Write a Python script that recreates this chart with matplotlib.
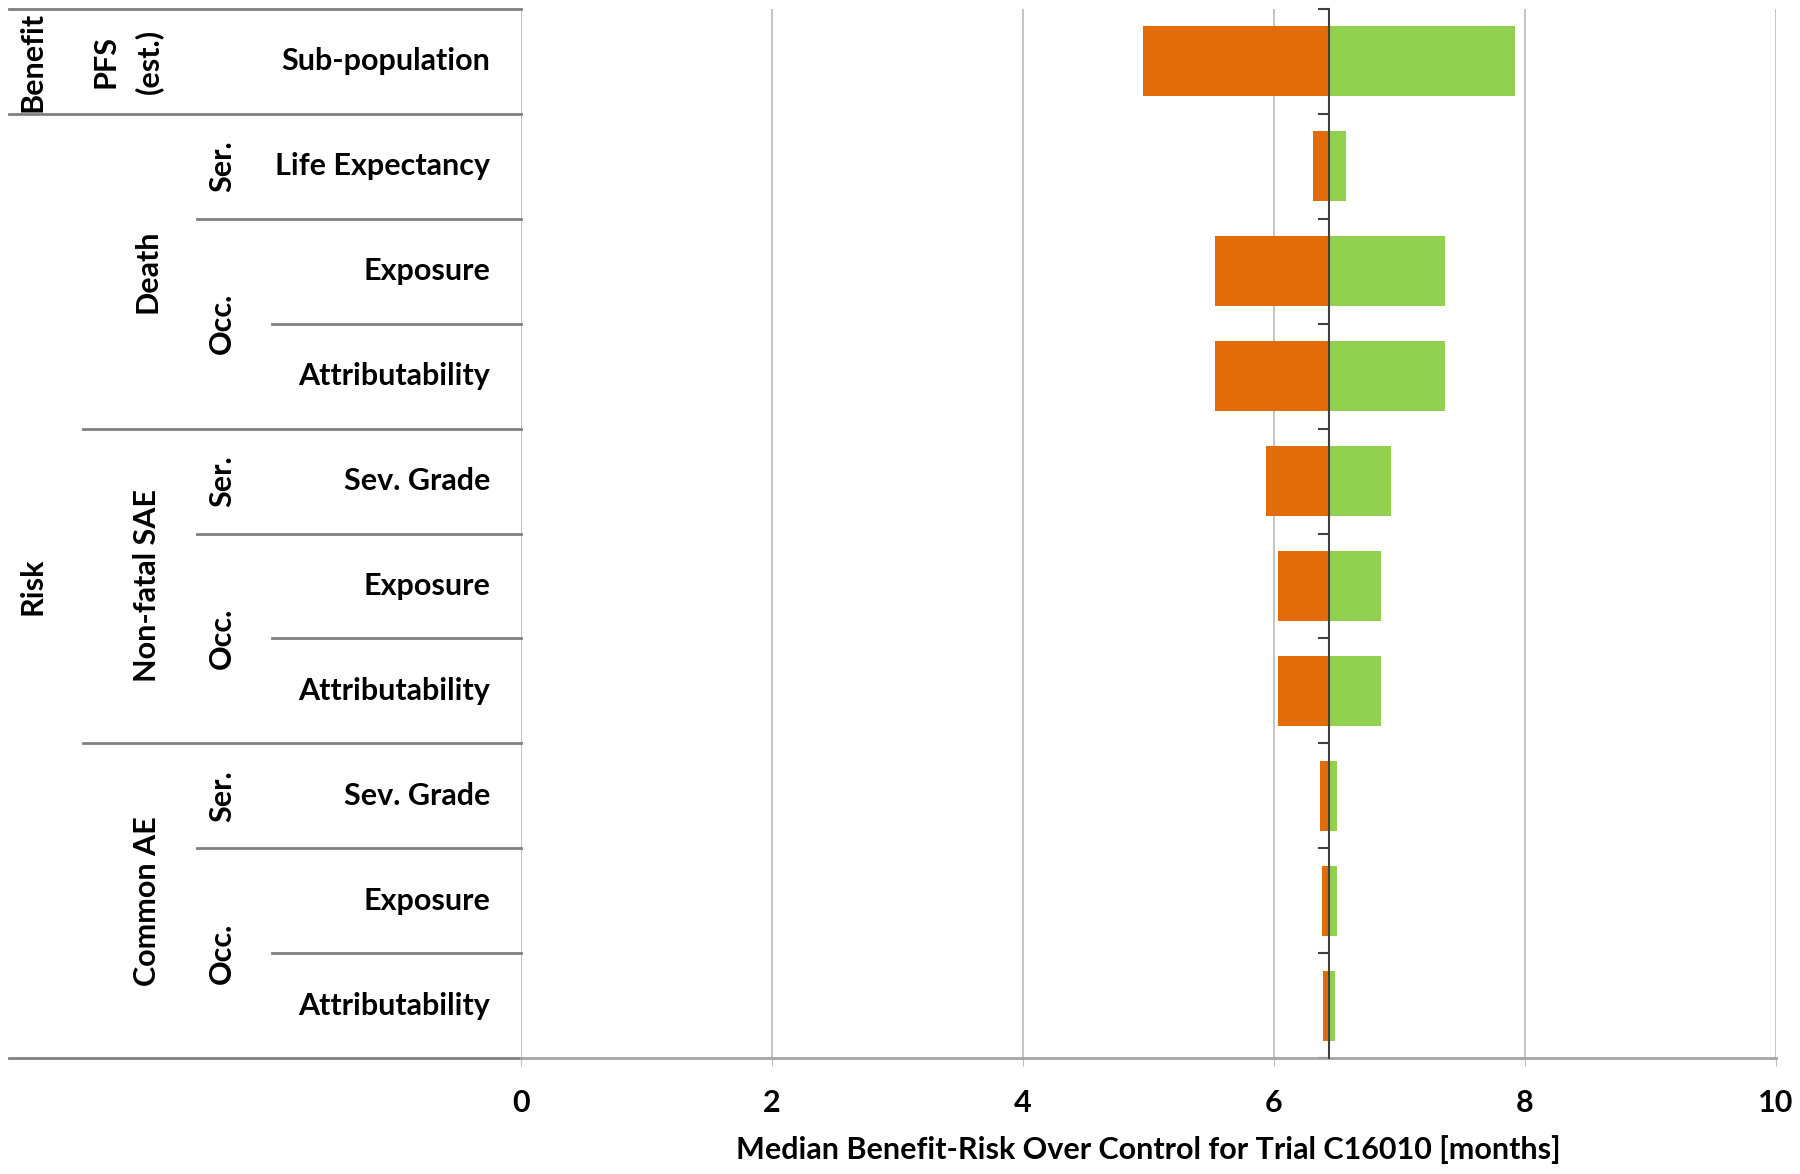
import matplotlib.pyplot as plt
from matplotlib.transforms import blended_transform_factory

plt.rcParams['font.family'] = ['Lato', 'DejaVu Sans']

# Data
labels = ['Sub-population', 'Life Expectancy', 'Exposure', 'Attributability',
          'Sev. Grade', 'Exposure', 'Attributability',
          'Sev. Grade', 'Exposure', 'Attributability']
low = [4.96, 6.31, 5.53, 5.53, 5.94, 6.03, 6.03, 6.37, 6.38, 6.39]
high = [7.92, 6.57, 7.36, 7.36, 6.93, 6.85, 6.85, 6.50, 6.50, 6.49]
baseline = 6.44
xticks = [0, 2, 4, 6, 8, 10]

# Group labels: (text, first row, last row)
level1 = [('Benefit', 0, 0), ('Risk', 1, 9)]
level2 = [('PFS\n(est.)', 0, 0), ('Death', 1, 3), ('Non-fatal SAE', 4, 6), ('Common AE', 7, 9)]
level3 = [('Ser.', 1, 1), ('Occ.', 2, 3), ('Ser.', 4, 4), ('Occ.', 5, 6), ('Ser.', 7, 7), ('Occ.', 8, 9)]

orange = '#E36C0A'
green = '#92D050'
FS = 22
FW = 'bold'

fig = plt.figure(figsize=(18, 11.74), dpi=100)
W, H = 1800, 1174
x0, x1, ytop, ybot = 521, 1776, 9, 1058
ax = fig.add_axes([x0 / W, 1 - ybot / H, (x1 - x0) / W, (ybot - ytop) / H])

rows = range(len(labels))
ax.barh(rows, [baseline - l for l in low], left=low, height=0.667, color=orange, zorder=2)
ax.barh(rows, [h - baseline for h in high], left=baseline, height=0.667, color=green, zorder=2)

ax.set_xlim(0, 10)
ax.set_ylim(len(labels) - 0.5, -0.5)
ax.set_xticks(xticks)
ax.set_xticklabels([str(t) for t in xticks], fontsize=FS, fontweight=FW)
ax.tick_params(axis='x', length=6, color='#BFBFBF', pad=16)
ax.grid(axis='x', color='#BFBFBF', linewidth=1.3, zorder=0)
ax.set_axisbelow(True)

# vertical axis crossing at the baseline
ax.spines['top'].set_visible(False)
ax.spines['right'].set_visible(False)
ax.spines['left'].set_position(('data', baseline))
ax.spines['left'].set_color('#404040')
ax.spines['left'].set_linewidth(1.5)
ax.spines['left'].set_zorder(3)
ax.spines['bottom'].set_color('#A6A6A6')
ax.spines['bottom'].set_linewidth(2)
ax.set_yticks([i + 0.5 for i in range(-1, len(labels))])
ax.set_yticklabels([])
ax.tick_params(axis='y', length=8, width=1.5, color='#404040')

ax.set_xlabel('Median Benefit-Risk Over Control for Trial C16010 [months]',
              fontsize=FS, fontweight=FW, labelpad=13)

# Table on the left
tr = blended_transform_factory(ax.transAxes, ax.transData)
def fx(px):
    return (px - x0) / (x1 - x0)

line_kw = dict(color='#808080', linewidth=2, transform=tr, clip_on=False)
starts = {-0.5: 9, 0.5: 9, 1.5: 197, 2.5: 272, 3.5: 83, 4.5: 197, 5.5: 272,
          6.5: 83, 7.5: 197, 8.5: 272, 9.5: 9}
for yb, xs in starts.items():
    ax.plot([fx(xs), 0], [yb, yb], **line_kw)

for i, lab in enumerate(labels):
    ax.text(fx(490), i, lab, transform=tr, ha='right', va='center',
            fontsize=FS, fontweight=FW)

for level, xp in [(level1, 32), (level2, 147), (level3, 222)]:
    for txt, a, b in level:
        xx = 127 if txt.startswith('PFS') else xp
        ax.text(fx(xx), (a + b) / 2, txt, transform=tr, rotation=90,
                ha='center', va='center', fontsize=FS, fontweight=FW,
                linespacing=1.6)

fig.savefig('out.png', dpi=100)
